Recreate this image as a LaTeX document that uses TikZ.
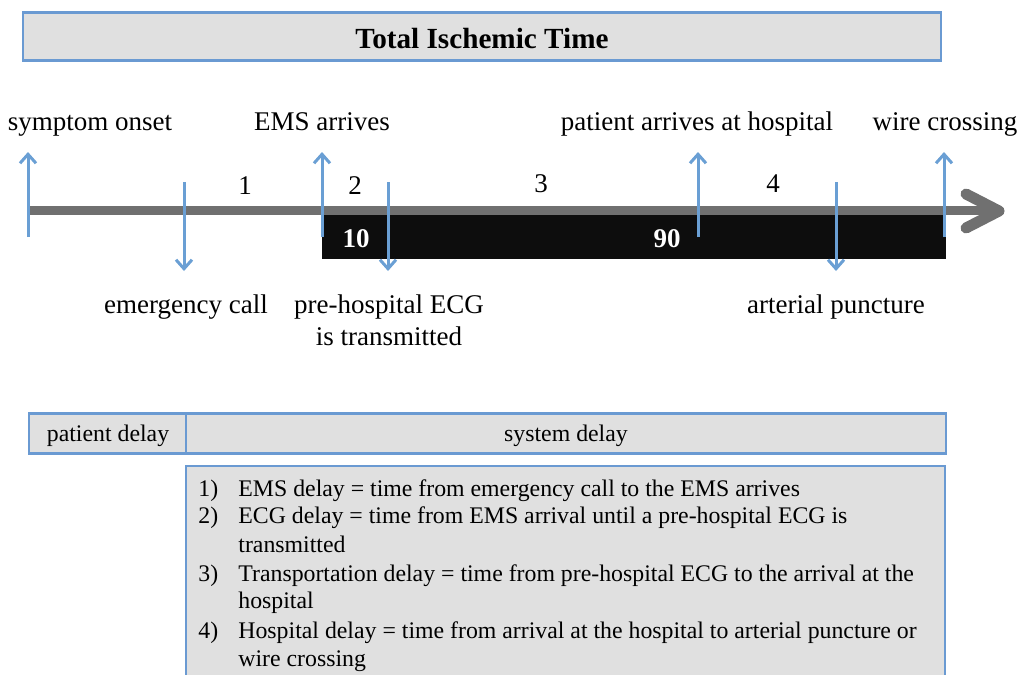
\documentclass[tikz,border=0pt]{standalone}
\usepackage{fontspec}
\setmainfont{Liberation Serif}
\usetikzlibrary{arrows.meta}
\definecolor{boxblue}{HTML}{6A9AD2}
\definecolor{arrblue}{HTML}{6A9FD4}
\definecolor{boxgrey}{HTML}{E0E0E0}
\definecolor{linegrey}{HTML}{707070}
\tikzset{
  frame/.style={draw=boxblue, line width=1.3pt, fill=boxgrey},
  lbl/.style={font=\fontsize{13.5}{16}\selectfont, inner sep=0pt, anchor=base},
  num/.style={font=\fontsize{13.5}{16}\selectfont, inner sep=0pt, anchor=base},
  wnum/.style={font=\fontsize{13.5}{16}\selectfont\bfseries, text=white, inner sep=0pt, anchor=base},
  itm/.style={font=\fontsize{11.9}{14}\selectfont, inner sep=0pt, anchor=base west},
  evarrow/.style={draw=arrblue, line width=1.5pt, -{Straight Barb[length=4.5pt,width=8pt,line width=1.5pt]}},
}
\begin{document}
\begin{tikzpicture}[x=0.5pt,y=-0.5pt]
\useasboundingbox (0,0) rectangle (1020,674);
\clip (0,0) rectangle (1020,674);
% title
\node[frame, minimum width=459pt, minimum height=24pt, inner sep=0pt] (title) at (482,36.5) {};
\node[font=\fontsize{14.6}{17}\selectfont\bfseries, inner sep=0pt, anchor=base] (titletext) at (482,49) {Total Ischemic Time};
% black bar
\fill[black!95] (322,215) rectangle (946,259);
\node[wnum] (ten) at (356,247) {10};
\node[wnum] (ninety) at (667,247) {90};
% timeline
\coordinate (tl0) at (28,210.5);
\coordinate (tl1) at (996,210.5);
\draw[linegrey, line width=4.5pt] (tl0) -- (tl1);
\coordinate (chA) at (966,194);
\coordinate (chT) at (999,211);
\coordinate (chB) at (966,228);
\draw[linegrey, line width=5.5pt, line cap=round, line join=round] (chA) -- (chT) -- (chB);
% event coordinates
\coordinate (u1a) at (28,237); \coordinate (u1b) at (28,152);
\coordinate (u2a) at (322,237); \coordinate (u2b) at (322,152);
\coordinate (u3a) at (698,237); \coordinate (u3b) at (698,152);
\coordinate (u4a) at (944,237); \coordinate (u4b) at (944,152);
\coordinate (d1a) at (184,182); \coordinate (d1b) at (184,271);
\coordinate (d2a) at (388,182); \coordinate (d2b) at (388,271);
\coordinate (d3a) at (836,182); \coordinate (d3b) at (836,271);
\draw[evarrow] (u1a) -- (u1b);
\draw[evarrow] (u2a) -- (u2b);
\draw[evarrow] (u3a) -- (u3b);
\draw[evarrow] (u4a) -- (u4b);
\draw[evarrow] (d1a) -- (d1b);
\draw[evarrow] (d2a) -- (d2b);
\draw[evarrow] (d3a) -- (d3b);
% numbers
\node[num] (n1) at (245,194) {1};
\node[num] (n2) at (355,194) {2};
\node[num] (n3) at (541,192) {3};
\node[num] (n4) at (773,192) {4};
% top labels
\node[lbl] (l1) at (90,130) {symptom onset};
\node[lbl] (l2) at (322,130) {EMS arrives};
\node[lbl] (l3) at (697,130) {patient arrives at hospital};
\node[lbl] (l4) at (945,130) {wire crossing};
% bottom labels
\node[lbl] (b1) at (186,313) {emergency call};
\node[lbl] (b2) at (389,313) {pre-hospital ECG};
\node[lbl] (b2b) at (389,345) {is transmitted};
\node[lbl] (b3) at (836,313) {arterial puncture};
% delay row
\draw[frame] (29,413.5) rectangle (186,453.5);
\draw[frame] (186,413.5) rectangle (946,453.5);
\node[font=\fontsize{11.9}{14}\selectfont, inner sep=0pt, anchor=base] (pd) at (108,441) {patient delay};
\node[font=\fontsize{11.9}{14}\selectfont, inner sep=0pt, anchor=base] (sd) at (566,441) {system delay};
% definitions box
\draw[frame] (186,466) rectangle (945,700);
\node[itm] (i1n) at (198,496) {1)};
\node[itm] (i1) at (238,496) {EMS delay = time from emergency call to the EMS arrives};
\node[itm] (i2n) at (198,523) {2)};
\node[itm] (i2) at (238,523) {ECG delay = time from EMS arrival until a pre-hospital ECG is};
\node[itm] (i2c) at (238,552) {transmitted};
\node[itm] (i3n) at (198,581) {3)};
\node[itm] (i3) at (238,581) {Transportation delay = time from pre-hospital ECG to the arrival at the};
\node[itm] (i3c) at (238,608) {hospital};
\node[itm] (i4n) at (198,638) {4)};
\node[itm] (i4) at (238,638) {Hospital delay = time from arrival at the hospital to arterial puncture or};
\node[itm] (i4c) at (238,666) {wire crossing};
\end{tikzpicture}
\end{document}
